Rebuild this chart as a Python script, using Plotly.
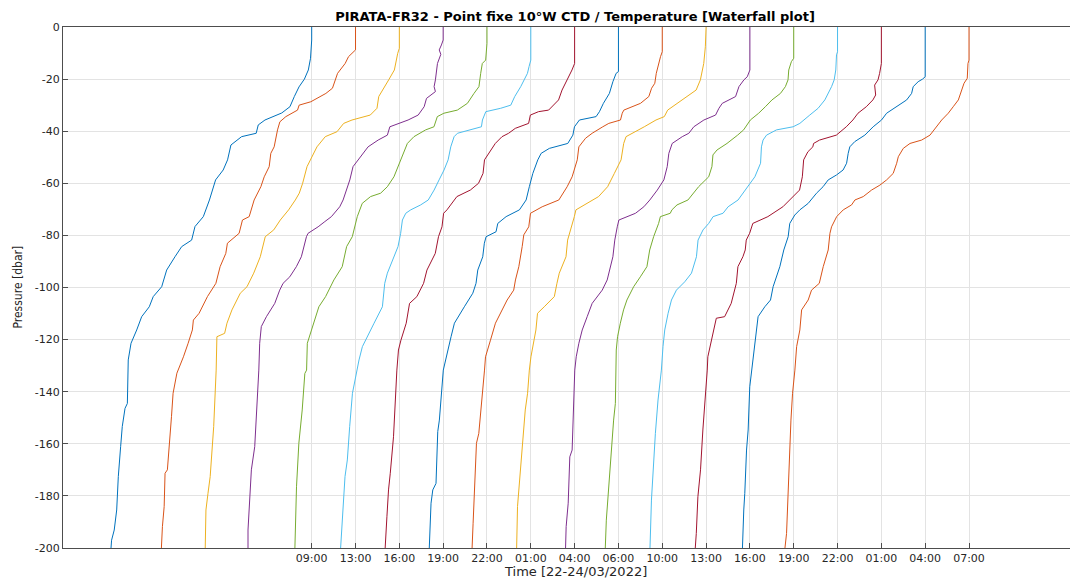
import plotly.graph_objects as go

# ---------------- data ----------------
cast_labels = ["09:00", "13:00", "16:00", "19:00", "22:00", "01:00", "04:00", "06:00",
               "10:00", "13:00", "16:00", "19:00", "22:00", "01:00", "04:00", "07:00"]

# pressure (dbar, negative downward) and temperature relative to surface (degC)
p_c01 = [0,-5,-12,-16.5,-20,-23,-26.7,-30.6,-33,-35.7,-37.6,-40.8,-42.1,-45.3,-51,-54.9,-58.7,-66.4,-72.8,-76.6,-81.8,-84.3,-88.2,-93.3,-99.7,-103.5,-107.4,-111.2,-116.3,-121.4,-127.8,-144.5,-146.4,-153.4,-161.1,-172.6,-185.4,-193.1,-197,-200]
t_c01 = [0,0,-0.08,-0.23,-0.5,-0.87,-1.19,-1.49,-2.05,-3.2,-3.66,-3.8,-4.8,-5.53,-5.76,-6.06,-6.58,-7.0,-7.42,-7.99,-8.22,-8.9,-9.36,-9.93,-10.27,-10.85,-11.12,-11.64,-11.98,-12.37,-12.56,-12.62,-12.78,-12.97,-13.08,-13.24,-13.35,-13.52,-13.7,-13.74]

p_c02 = [0,-8.8,-11.4,-14,-17.8,-20.3,-23.5,-25.5,-27.4,-28.7,-30,-31.9,-34.4,-36.4,-39.5,-46,-48.5,-53.6,-57.5,-61.3,-66.4,-72.8,-74.1,-79.2,-83,-86.9,-92,-98.4,-103.5,-109.9,-112.5,-116.3,-121.4,-126.6,-132.9,-140.6,-149.6,-157.3,-170,-171.3,-184.1,-191.8,-200]
t_c02 = [0,0,-0.48,-0.71,-1.23,-1.39,-1.58,-2.03,-2.71,-3.06,-3.86,-3.97,-4.77,-5.18,-5.34,-5.57,-5.8,-5.91,-6.25,-6.48,-6.94,-7.28,-7.74,-7.97,-8.77,-8.88,-9.27,-9.56,-10.14,-10.71,-11.1,-11.17,-11.46,-11.78,-12.23,-12.49,-12.6,-12.69,-12.88,-13.04,-13.1,-13.22,-13.29]

p_c03 = [0,-8.2,-10.1,-13.3,-16.5,-20.3,-24.2,-26.7,-31.2,-33.8,-35.7,-37,-40.2,-42.1,-46,-48.5,-51,-53.6,-60,-63.8,-66.4,-70.2,-74.1,-77.9,-80.5,-88.2,-94.5,-99.7,-102.2,-108.6,-113.7,-117.6,-118.9,-131.7,-153.4,-172.6,-179,-185.4,-200]
t_c03 = [0,0,-0.11,-0.25,-0.34,-0.73,-1.12,-1.41,-1.53,-1.99,-3.24,-3.81,-4.27,-5.07,-5.64,-5.86,-6.1,-6.32,-6.62,-6.85,-7.12,-7.58,-8.15,-8.6,-9.18,-9.52,-9.97,-10.43,-10.89,-11.46,-11.8,-11.96,-12.49,-12.54,-12.71,-12.95,-13.1,-13.24,-13.29]

p_c04 = [0,-5,-6.9,-8.8,-10.5,-14,-20.3,-22.9,-24.8,-26.1,-27.4,-30.6,-33.8,-35.7,-37,-38.3,-41.5,-43.4,-46,-51,-53.6,-58.7,-62.6,-66.4,-69,-72.8,-74.7,-76.7,-79.2,-80.5,-85.6,-88.2,-92,-95.9,-98.4,-101,-106.1,-111.2,-115,-121.4,-131.7,-147,-161.1,-170,-184.1,-193.1,-200]
t_c04 = [0,0,-0.12,-0.27,-0.16,-0.39,-0.53,-0.62,-0.53,-0.8,-1.14,-1.3,-1.71,-2.4,-3.08,-3.65,-3.82,-4.45,-5.14,-5.82,-6.17,-6.39,-6.62,-6.85,-7.08,-7.65,-8.1,-8.56,-9.25,-9.36,-9.59,-9.71,-10.05,-10.5,-10.96,-11.19,-11.53,-12.1,-12.45,-12.56,-12.62,-12.79,-12.9,-13.13,-13.24,-13.36,-13.36]

p_c05 = [0,-6.3,-12.7,-14,-17.8,-22.9,-25.5,-29.3,-31.9,-33.1,-34.4,-38.3,-39.5,-42.1,-44.7,-51,-57.5,-61.3,-63.8,-65.1,-67.7,-72.8,-80.5,-84.3,-92,-97.1,-99.7,-103.5,-107.4,-111.2,-117.6,-121.4,-131.7,-133,-147,-159.8,-176.5,-185.4,-200]
t_c05 = [0,0,-0.09,-0.32,-0.43,-0.55,-0.89,-1.34,-2.03,-2.95,-3.4,-3.63,-4.2,-5.0,-5.45,-5.91,-6.37,-6.82,-7.28,-7.97,-8.54,-8.88,-9.22,-9.61,-9.91,-10.48,-10.71,-11.05,-11.51,-11.73,-12.08,-12.3,-12.35,-12.47,-12.65,-12.88,-13.04,-13.1,-13.15]

p_c06 = [0,-12.7,-15.2,-17.8,-22.9,-26.7,-30,-31.2,-32.5,-35.7,-38.3,-39.5,-40.8,-42.1,-46,-51,-54.9,-58.7,-62.6,-66.4,-68.3,-70.2,-71.5,-74.1,-79.2,-84.3,-89.4,-94.5,-98.4,-107.4,-113.7,-117.6,-122.7,-127.8,-135.5,-140.6,-153.4,-166.2,-172.6,-184.1,-194.4,-200]
t_c06 = [0,0,-0.12,-0.23,-0.69,-1.1,-1.37,-2.06,-3.08,-3.31,-3.38,-4.11,-5.02,-5.25,-5.48,-5.66,-5.94,-6.28,-6.62,-7.02,-7.54,-8.22,-8.56,-8.79,-8.91,-9.09,-9.47,-9.82,-10.0,-10.16,-10.73,-11.08,-11.53,-11.76,-12.06,-12.21,-12.4,-12.56,-12.72,-12.86,-12.95,-13.02]

p_c07 = [0,-14,-16.5,-20.3,-24.2,-28,-31.9,-32.5,-33.8,-37,-38.9,-40.8,-42.1,-44.7,-48.5,-51,-56.2,-60,-62.6,-65.1,-70.2,-71.5,-76.7,-80.5,-86.9,-93.3,-98.4,-103.5,-106.1,-113.7,-120.2,-124,-131.7,-135.5,-157.3,-171.3,-177.7,-188,-195.7,-200]
t_c07 = [0,0,-0.18,-0.52,-0.86,-1.1,-1.78,-2.47,-3.03,-3.15,-4.06,-4.52,-4.97,-5.43,-5.89,-6.17,-6.27,-6.58,-7.14,-8.06,-8.74,-8.97,-9.08,-9.32,-9.54,-10.11,-10.34,-10.8,-11.3,-11.53,-11.89,-12.06,-12.17,-12.21,-12.4,-12.62,-12.74,-12.85,-12.95,-12.97]

p_c08 = [0,-17.1,-17.8,-21,-25.5,-29.3,-32.5,-34.4,-35.7,-38.3,-41.5,-44.7,-46.6,-48.5,-51,-56.2,-61.3,-66.4,-70.2,-72.8,-75.4,-78.6,-80.5,-83,-88.2,-93.3,-98.4,-102.2,-107.4,-113.7,-118.9,-126.6,-131.7,-150.9,-155.3,-175.2,-177.7,-182.8,-194.4,-200]
t_c08 = [0,0,-0.16,-0.38,-0.62,-1.03,-1.3,-1.53,-2.67,-3.01,-3.12,-3.47,-4.73,-5.29,-5.52,-5.86,-6.1,-6.32,-6.78,-7.69,-8.26,-8.38,-9.06,-9.18,-9.29,-9.63,-9.75,-9.97,-10.55,-11.23,-11.46,-11.8,-11.99,-12.26,-12.37,-12.49,-12.71,-12.83,-12.88,-12.95]

p_c09 = [0,-9.5,-11.4,-14,-17.8,-21.6,-23.5,-26.7,-29.3,-31.9,-33.1,-35.7,-37,-38.3,-40.8,-42.7,-46,-51,-57.5,-61.3,-66.4,-69,-71.5,-76.7,-79.8,-84.3,-92,-97.1,-101,-104.8,-108.6,-113.7,-120.2,-124,-126.6,-131.7,-138.1,-140.6,-156,-159.8,-168.8,-179,-190.5,-200]
t_c09 = [0,0,-0.12,-0.23,-0.41,-0.51,-0.73,-0.92,-1.49,-2.63,-2.74,-2.86,-3.66,-4.07,-4.8,-5.25,-5.71,-5.82,-6.17,-6.51,-7.08,-8.22,-9.02,-9.14,-9.48,-9.59,-9.82,-10.05,-10.17,-10.62,-10.96,-11.42,-11.76,-11.99,-12.1,-12.17,-12.26,-12.33,-12.56,-12.72,-12.79,-12.91,-12.95,-13.02]

p_c10 = [0,-5,-7.6,-14,-20.3,-24.2,-27.4,-30.6,-31.9,-34.4,-35.7,-38.3,-40.8,-42.1,-44.7,-51,-56.2,-61.3,-65.1,-67.7,-70.2,-72.8,-75.4,-81.8,-88.2,-94.5,-98.4,-103.5,-107.4,-109.9,-116.3,-126.6,-131.7,-140.6,-147,-159.8,-172.6,-176.5,-184.1,-200]
t_c10 = [0,0,-0.05,-0.16,-0.39,-0.68,-1.49,-2.29,-2.63,-2.86,-3.43,-4.23,-5.03,-5.48,-5.64,-5.82,-6.28,-6.74,-7.36,-8.11,-8.91,-9.02,-9.14,-9.48,-9.59,-10.05,-10.21,-10.39,-11.08,-11.54,-11.65,-11.99,-12.1,-12.22,-12.38,-12.56,-12.74,-12.84,-12.91,-12.97]

p_c11 = [0,-16.5,-19.1,-20.3,-22.9,-26.7,-29.3,-31.2,-33.8,-35.7,-38.3,-40.8,-42.1,-44.7,-48.5,-53.6,-58.7,-62.6,-66.4,-69,-71.5,-74.1,-76.7,-81.8,-88.2,-97.1,-101,-106.1,-111.2,-116.3,-121.4,-126.6,-131.7,-147,-162.4,-165,-182.8,-191.8,-200]
t_c11 = [0,0,-0.18,-0.41,-0.75,-0.98,-1.89,-2.12,-2.35,-3.15,-3.84,-4.18,-4.63,-5.32,-5.55,-5.66,-5.89,-6.34,-6.85,-7.26,-7.83,-8.97,-9.08,-9.25,-9.38,-9.77,-10.11,-10.8,-11.14,-11.48,-11.71,-11.89,-11.99,-12.06,-12.17,-12.33,-12.44,-12.58,-12.62]

p_c12 = [0,-12,-13.3,-16.5,-20.3,-22.9,-25.5,-28,-30.6,-33.1,-35.7,-38.3,-39.5,-41.5,-44.7,-47.2,-49.1,-53.6,-57.5,-61.3,-66.4,-68.3,-70.2,-71.5,-72.8,-75.4,-80.5,-85.6,-92,-95.9,-99.7,-104.8,-108.6,-113.7,-118.9,-124,-131.7,-144.5,-150.9,-159.8,-170,-181.6,-189.3,-200]
t_c12 = [0,0,-0.16,-0.34,-0.39,-0.57,-0.91,-1.49,-1.94,-2.4,-2.97,-3.31,-3.43,-3.84,-4.57,-5.25,-5.53,-5.6,-5.82,-6.51,-7.24,-7.99,-8.34,-8.45,-9.13,-9.25,-9.59,-9.86,-10.05,-10.5,-10.96,-11.42,-11.65,-11.87,-12.06,-12.15,-12.17,-12.21,-12.33,-12.45,-12.6,-12.74,-12.83,-12.9]

p_c13 = [0,-9.5,-10.7,-16.5,-20.3,-22.9,-28,-31.2,-33.8,-37,-38.3,-39.5,-41.5,-43.4,-46,-52.3,-57.5,-61.3,-63.8,-66.4,-69,-71.5,-72.8,-75.4,-77.9,-81.8,-88.2,-94.5,-97.8,-101,-104.8,-109.9,-116.3,-122.7,-131.7,-143.2,-156,-172.6,-181.6,-200]
t_c13 = [0,0,-0.07,-0.12,-0.23,-0.41,-0.87,-1.33,-1.9,-2.58,-3.04,-4.18,-4.86,-5.1,-5.21,-5.27,-5.66,-6.17,-6.47,-6.81,-7.49,-7.84,-8.52,-8.82,-9.21,-9.55,-9.66,-10.0,-10.46,-11.03,-11.37,-11.6,-11.83,-11.95,-12.06,-12.29,-12.47,-12.63,-12.74,-12.84]

p_c14 = [0,-14,-17.8,-20.3,-22.3,-26.1,-28,-30.6,-33.1,-35.7,-38.3,-41.5,-43.4,-44.7,-46,-47.9,-51,-57.5,-62.6,-65.1,-69,-72.8,-75.4,-79.2,-81.8,-85.6,-88.2,-92,-98.4,-106.1,-111.2,-111.8,-116.3,-121.4,-126.6,-131.7,-136.8,-147,-154.7,-170,-180.3,-194.4,-200]
t_c14 = [0,0,-0.12,-0.23,-0.46,-0.39,-0.58,-1.03,-1.6,-1.95,-2.4,-3.08,-4.23,-4.64,-4.69,-5.03,-5.32,-5.41,-5.6,-6.06,-6.74,-7.77,-8.8,-9.02,-9.25,-9.32,-9.48,-9.82,-9.93,-10.28,-10.73,-11.3,-11.47,-11.65,-11.88,-11.92,-11.99,-12.1,-12.22,-12.38,-12.56,-12.67,-12.74]

p_c15 = [0,-19.1,-20,-21,-22.9,-25.5,-28,-30.6,-33.1,-35.7,-38.3,-41.5,-44,-46,-48.5,-52.3,-54.9,-56.8,-58.7,-61.3,-63.8,-67.7,-70.2,-72.2,-75.4,-80.5,-85.6,-92,-95.9,-99.7,-104.8,-107.4,-111.2,-118.9,-124,-131.7,-138.1,-154.7,-162.4,-179,-185.4,-200]
t_c15 = [0,0,-0.18,-0.48,-0.82,-0.93,-1.27,-1.96,-2.64,-2.99,-3.56,-4.13,-4.82,-5.16,-5.27,-5.38,-5.62,-6.07,-6.64,-6.99,-7.44,-8.01,-8.58,-8.93,-9.27,-9.38,-9.68,-9.95,-10.18,-10.41,-10.59,-10.98,-11.44,-11.6,-11.73,-11.89,-12.01,-12.12,-12.23,-12.35,-12.42,-12.51]

p_c16 = [0,-12.7,-14,-19.7,-21.6,-24.2,-28,-30.6,-33.1,-35.7,-38.3,-41.5,-43.4,-44.7,-46.6,-49.8,-52.3,-56.2,-58.7,-60.7,-62.6,-65.1,-66.4,-68.3,-70.2,-72.8,-76.7,-79.2,-85.6,-92,-98.4,-101,-104.8,-108.6,-116.3,-118.9,-122.7,-131.7,-140.6,-150.9,-161.1,-172.6,-194.4,-200]
t_c16 = [0,0,-0.07,-0.12,-0.34,-0.5,-0.73,-1.08,-1.42,-1.87,-2.21,-2.67,-3.24,-4.04,-4.5,-4.84,-4.95,-5.19,-5.64,-6.1,-6.67,-7.24,-7.81,-8.04,-8.61,-9.06,-9.41,-9.52,-9.64,-9.98,-10.25,-10.78,-11.01,-11.46,-11.58,-11.69,-11.8,-11.92,-12.08,-12.19,-12.26,-12.38,-12.49,-12.6]

y_ticks = [0, -20, -40, -60, -80, -100, -120, -140, -160, -180, -200]
y_ticktext = ["0", "-20", "-40", "-60", "-80", "-100", "-120", "-140", "-160", "-180", "-200"]

# ---------------- styling ----------------
OFFSET = 3.0  # waterfall offset between casts (degC)
COLORS = ["#0072BD", "#D95319", "#EDB120", "#7E2F8E", "#77AC30", "#4DBEEE", "#A2142F"]

casts = [(p_c01, t_c01), (p_c02, t_c02), (p_c03, t_c03), (p_c04, t_c04),
         (p_c05, t_c05), (p_c06, t_c06), (p_c07, t_c07), (p_c08, t_c08),
         (p_c09, t_c09), (p_c10, t_c10), (p_c11, t_c11), (p_c12, t_c12),
         (p_c13, t_c13), (p_c14, t_c14), (p_c15, t_c15), (p_c16, t_c16)]

fig = go.Figure()
for i, (p, t) in enumerate(casts):
    assert len(p) == len(t), (i, len(p), len(t))
    fig.add_trace(go.Scatter(
        x=[i * OFFSET + v for v in t], y=p, mode="lines",
        line=dict(color=COLORS[i % len(COLORS)], width=1),
        showlegend=False, hoverinfo="skip"))

W, H = 1070, 578
L, R, T, B = 63, 0, 27, 30
px_per_unit = 43.82 / OFFSET
x_left = -(311.7 - L) / px_per_unit
x_right = x_left + (W - L - R) / px_per_unit

fig.update_layout(
    width=W, height=H,
    margin=dict(l=L, r=R, t=T, b=B, pad=0),
    paper_bgcolor="white", plot_bgcolor="white",
    font=dict(family="DejaVu Sans", size=12, color="#262626"),
    title=dict(text="<b>PIRATA-FR32 - Point fixe 10°W CTD / Temperature [Waterfall plot]</b>",
               xref="container", yref="container", x=575 / W, y=1 - 16 / H,
               xanchor="center", yanchor="middle",
               font=dict(family="DejaVu Sans", size=13, color="#000000")),
    xaxis=dict(range=[x_left, x_right], tickvals=[i * OFFSET for i in range(len(cast_labels))],
               ticktext=cast_labels, showgrid=True, gridcolor="#e3e3e3", gridwidth=1,
               zeroline=False, showline=True, linecolor="#4d4d4d", linewidth=1, mirror=True,
               ticks="inside", ticklen=5, tickcolor="#4d4d4d",
               tickfont=dict(family="DejaVu Sans", size=11, color="#262626")),
    yaxis=dict(range=[-200, 0], tickvals=y_ticks, ticktext=y_ticktext,
               showgrid=True, gridcolor="#e3e3e3", gridwidth=1,
               zeroline=False, showline=True, linecolor="#4d4d4d", linewidth=1,
               ticks="inside", ticklen=5, tickcolor="#4d4d4d",
               tickfont=dict(family="DejaVu Sans", size=11, color="#262626")),
    annotations=[
        dict(text="Time [22-24/03/2022]", xref="paper", yref="paper",
             x=(575 - L) / (W - L - R), y=-(571 - (H - B)) / (H - T - B),
             xanchor="center", yanchor="middle", showarrow=False,
             font=dict(family="DejaVu Sans", size=13, color="#262626")),
        dict(text="Pressure [dbar]", xref="paper", yref="paper",
             x=(17 - L) / (W - L - R), y=0.5, textangle=-90,
             xanchor="center", yanchor="middle", showarrow=False,
             font=dict(family="DejaVu Sans Condensed, Liberation Sans, sans-serif",
                       size=12, color="#262626")),
    ],
)

fig.write_html("out.html")
